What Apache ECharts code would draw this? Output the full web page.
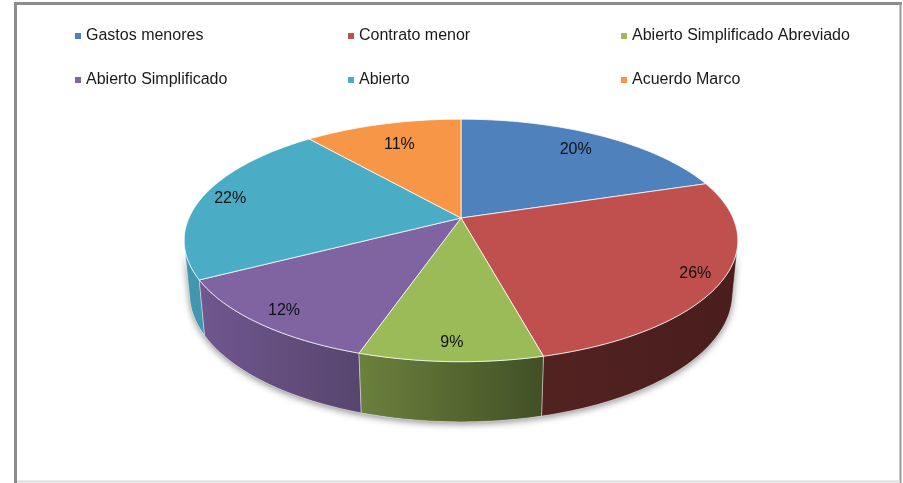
<!DOCTYPE html>
<html>
<head>
<meta charset="utf-8">
<title>Pie 3D</title>
<script src="https://cdn.jsdelivr.net/npm/echarts/dist/echarts.min.js"></script>
<style>
  html, body { margin: 0; padding: 0; background: #fff; }
  #main { width: 903px; height: 483px; }
</style>
</head>
<body>
<div id="main"></div>
<script>
// data
var categories = ['Gastos menores', 'Contrato menor', 'Abierto Simplificado Abreviado',
  'Abierto Simplificado', 'Abierto', 'Acuerdo Marco'];
var shares = [20, 26, 9, 12, 22, 11];
var colors = ['#4f81bd', '#c0504d', '#9bbb59', '#8064a2', '#4bacc6', '#f79646'];

var total = shares.reduce(function (a, b) { return a + b; }, 0);

// perspective of the tilted disc (camera distance = 1)
var TILT = 25.5 * Math.PI / 180;
var SIN_T = Math.sin(TILT), COS_T = Math.cos(TILT);
var CX = 461, CY = 218, F = 1327, R = 0.205, H = 0.0442;
var VIS0 = Math.acos(-R / COS_T), VIS1 = 2 * Math.PI - VIS0;
var LIGHT = 250 * Math.PI / 180;
var FONT = '16px "Liberation Sans", Arial, sans-serif';

// phi: clockwise from the back, k: fraction of radius, h: depth below top face
function project(phi, k, h) {
  var x = R * k * Math.sin(phi), z = -R * k * Math.cos(phi);
  var v = z * SIN_T + h * COS_T;
  var w = 1 - z * COS_T + h * SIN_T;
  return [CX + F * x / w, CY + F * v / w];
}

function arc(a0, a1, h) {
  var n = Math.max(2, Math.ceil((a1 - a0) * 180 / Math.PI));
  var pts = [];
  for (var s = 0; s <= n; s++) pts.push(project(a0 + (a1 - a0) * s / n, 1, h));
  return pts;
}

function shade(hex, f) {
  var n = parseInt(hex.slice(1), 16);
  var r = Math.round(((n >> 16) & 255) * f), g = Math.round(((n >> 8) & 255) * f), b = Math.round((n & 255) * f);
  return 'rgb(' + r + ',' + g + ',' + b + ')';
}

// light coming from the front left
function wallFactor(phi) {
  return 0.38 + 0.5 * Math.max(0, Math.cos(phi - LIGHT));
}

var measureCtx = document.createElement('canvas').getContext('2d');
measureCtx.font = FONT;

function renderSlice(params, api) {
  var i = params.seriesIndex;
  var before = 0;
  for (var j = 0; j < i; j++) before += shares[j];
  var a0 = before / total * 2 * Math.PI;
  var a1 = a0 + api.value(0) / total * 2 * Math.PI;
  var color = colors[i];
  var children = [];

  // side wall, only the part facing the viewer
  var w0 = Math.max(a0, VIS0), w1 = Math.min(a1, VIS1);
  if (w1 - w0 > 1e-6) {
    var pts = arc(w0, w1, 0).concat(arc(w0, w1, H).reverse());
    var pA = project(w0, 1, 0), pB = project(w1, 1, 0);
    var nearest = Math.max(w0, Math.min(w1, Math.PI));
    children.push({
      type: 'polygon', silent: true, z2: 1,
      shape: { points: pts },
      style: { fill: '#fff', shadowBlur: 7, shadowColor: 'rgba(0,0,0,0.45)', shadowOffsetY: 2 }
    });
    children.push({
      type: 'polygon', z2: 2 - Math.cos(nearest),
      shape: { points: pts },
      style: {
        fill: {
          type: 'linear', x: pA[0], y: 0, x2: pB[0], y2: 0, global: true,
          colorStops: [
            { offset: 0, color: shade(color, wallFactor(w0)) },
            { offset: 1, color: shade(color, wallFactor(w1)) }
          ]
        },
        stroke: 'rgba(255,255,255,0.5)', lineWidth: 0.8
      }
    });
  }

  // top face
  var apex = project(0, 0, 0);
  children.push({
    type: 'polygon', z2: 10,
    shape: { points: [apex].concat(arc(a0, a1, 0)) },
    style: { fill: color, stroke: 'rgba(255,255,255,0.75)', lineWidth: 1 }
  });

  // percentage label, inside end
  var mid = (a0 + a1) / 2;
  var edge = project(mid, 1, 0);
  var dx = edge[0] - apex[0], dy = edge[1] - apex[1];
  var len = Math.sqrt(dx * dx + dy * dy);
  dx /= len; dy /= len;
  var text = Math.round(api.value(0) / total * 100) + '%';
  var hw = measureCtx.measureText(text).width / 2, hh = 7;
  var inset = 11 + Math.abs(dx) * hw + Math.abs(dy) * hh;
  children.push({
    type: 'text', z2: 20,
    x: edge[0] - dx * inset, y: edge[1] - dy * inset,
    style: { text: text, fill: '#111', font: FONT, align: 'center', verticalAlign: 'middle' }
  });

  return { type: 'group', children: children };
}

var chart = echarts.init(document.getElementById('main'));

var option = {
  backgroundColor: '#fff',
  animation: false,
  legend: {
    data: categories,
    left: 75,
    top: 14,
    width: 830,
    padding: 0,
    icon: 'rect',
    itemWidth: 6,
    itemHeight: 6,
    itemGap: 0,
    textStyle: {
      fontSize: 16,
      fontFamily: '"Liberation Sans", Arial, sans-serif',
      color: '#1a1a1a',
      width: 262,
      lineHeight: 44
    }
  },
  graphic: [
    { type: 'line', silent: true, shape: { x1: 15.5, y1: 2, x2: 15.5, y2: 483 }, style: { stroke: '#8c8c8c', lineWidth: 3 } },
    { type: 'line', silent: true, shape: { x1: 14, y1: 3.5, x2: 902, y2: 3.5 }, style: { stroke: '#8c8c8c', lineWidth: 3 } },
    { type: 'line', silent: true, shape: { x1: 900.5, y1: 2, x2: 900.5, y2: 483 }, style: { stroke: '#999', lineWidth: 2 } },
    { type: 'line', silent: true, shape: { x1: 17, y1: 481.5, x2: 900, y2: 481.5 }, style: { stroke: '#dcdcdc', lineWidth: 2 } }
  ],
  series: categories.map(function (name, i) {
    return {
      type: 'custom',
      name: name,
      coordinateSystem: 'none',
      itemStyle: { color: colors[i] },
      renderItem: renderSlice,
      data: [[shares[i]]]
    };
  })
};

chart.setOption(option);
</script>
</body>
</html>
